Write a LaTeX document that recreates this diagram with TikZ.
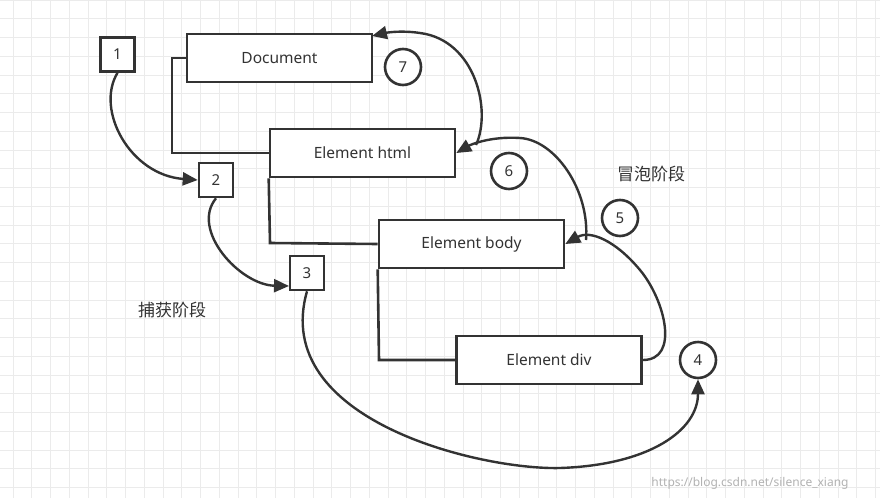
\documentclass[tikz,border=0pt]{standalone}
\usepackage{fontspec}
\setmainfont{Noto Sans}
\newfontfamily\cjk{Noto Sans CJK SC}
\usetikzlibrary{arrows.meta}
\definecolor{ink}{HTML}{333333}
\definecolor{gridc}{HTML}{EBEBEB}
\begin{document}
\begin{tikzpicture}[x=1pt,y=-1pt,
  box/.style={draw=ink,line width=2.6pt,fill=white,minimum width=185pt,minimum height=48pt,font=\fontsize{15.5}{18}\selectfont,text=ink,inner sep=0},
  sq/.style={draw=ink,line width=2.6pt,fill=white,minimum width=34pt,minimum height=34pt,font=\fontsize{15}{18}\selectfont,text=ink,inner sep=0},
  cir/.style={draw=ink,line width=2.6pt,fill=white,circle,minimum size=36pt,font=\fontsize{15}{18}\selectfont,text=ink,inner sep=0},
  tree/.style={draw=ink,line width=2.6pt},
  arr/.style={draw=ink,line width=2.4pt,-{Triangle[length=15pt,width=13pt]}},
  lab/.style={font=\cjk\fontsize{17}{20}\selectfont,text=ink}]
\useasboundingbox (0,0) rectangle (880,498);
\fill[white] (0,0) rectangle (880,498);
\foreach \i in {0,...,47} {\draw[gridc,line width=0.8pt] (13+18.75*\i,0) -- (13+18.75*\i,498);}
\foreach \j in {0,...,27} {\draw[gridc,line width=0.8pt] (0,18.75*\j) -- (880,18.75*\j);}
\coordinate (t1) at (172,58);
\coordinate (t2) at (172,153);
\coordinate (t3) at (270,243);
\coordinate (t4) at (379,360);
\node[box] (doc) at (279.5,58) {Document};
\node[box] (html) at (362.5,153) {Element html};
\node[box] (body) at (471.5,244) {Element body};
\node[box] (div) at (549,360) {Element div};
\draw[tree] (doc.west) -- (t1) -- (t2) -- (html.west);
\draw[tree] (html.south west) -- (t3) -- (body.west);
\draw[tree] (body.south west) -- (t4) -- (div.west);
\node[box] at (279.5,58) {Document};
\node[box] at (362.5,153) {Element html};
\node[box] at (471.5,244) {Element body};
\node[box] at (549,360) {Element div};
\node[sq] (n1) at (117.5,54.5) {1};
\node[sq] (n2) at (216,180) {2};
\node[sq] (n3) at (307,273) {3};
\node[cir] (n4) at (698,360) {4};
\node[cir] (n5) at (620,218) {5};
\node[cir] (n6) at (509,171) {6};
\node[cir] (n7) at (403,67) {7};
\node[lab] (cap) at (172,310) {捕获阶段};
\node[lab] (bub) at (651,174) {冒泡阶段};
\draw[arr] (n1.south) .. controls (95,110) and (130,175) .. (n2.west);
\draw[arr] (n2.south) .. controls (190,230) and (240,285) .. (289,286);
\draw[arr] (n3.south) .. controls (270,420) and (480,470) .. (560,468) .. controls (650,465) and (698,430) .. (n4.south);
\draw[arr] (div.east) .. controls (680,360) and (665,300) .. (640,270) .. controls (615,240) and (590,230) .. (body.east);
\draw[arr] (586,240) .. controls (590,190) and (555,140) .. (520,138) .. controls (490,136) and (470,145) .. (html.east);
\draw[arr] (476,145) .. controls (492,110) and (475,40) .. (420,33) .. controls (400,30) and (385,33) .. (372,36);
\node[font=\fontsize{12}{14}\selectfont,text=gray!60] (wm) at (750,483) {https://blog.csdn.net/silence\_xiang};
\end{tikzpicture}
\end{document}
